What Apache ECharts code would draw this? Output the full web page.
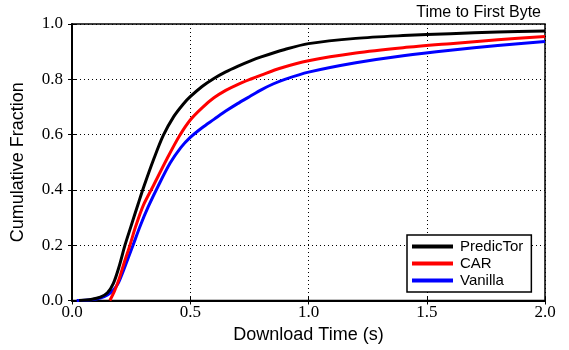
<!DOCTYPE html>
<html><head><meta charset="utf-8">
<script src="https://cdn.jsdelivr.net/npm/echarts@6/dist/echarts.min.js"></script>
<style>html,body{margin:0;padding:0;background:#fff}#c{width:569px;height:350px}</style>
</head><body><div id="c"></div>
<script>
var title = "Time to First Byte";
var xTicks = [0.0, 0.5, 1.0, 1.5, 2.0];
var yTicks = [0.0, 0.2, 0.4, 0.6, 0.8, 1.0];
var seriesNames = ["PredicTor", "CAR", "Vanilla"];

var predictorT = [0.03, 0.08, 0.12, 0.15, 0.175, 0.2, 0.224, 0.25, 0.28, 0.305, 0.345, 0.386, 0.43, 0.47, 0.5, 0.55, 0.6, 0.65, 0.7, 0.75, 0.8, 0.9, 1.0, 1.2, 1.4, 1.6, 1.8, 2.0];
var predictorF = [0.0, 0.004, 0.012, 0.028, 0.062, 0.125, 0.2, 0.27, 0.35, 0.415, 0.51, 0.597, 0.665, 0.71, 0.737, 0.774, 0.803, 0.827, 0.847, 0.865, 0.881, 0.908, 0.929, 0.948, 0.958, 0.965, 0.971, 0.975];

var carT = [0.16, 0.18, 0.2, 0.22, 0.245, 0.27, 0.302, 0.344, 0.4, 0.454, 0.5, 0.55, 0.6, 0.65, 0.7, 0.76, 0.8, 0.88, 1.0, 1.2, 1.4, 1.6, 1.8, 2.0];
var carF = [0.0, 0.035, 0.08, 0.135, 0.2, 0.27, 0.345, 0.415, 0.51, 0.595, 0.653, 0.697, 0.733, 0.76, 0.781, 0.802, 0.815, 0.84, 0.867, 0.895, 0.914, 0.929, 0.943, 0.955];

var vanillaT = [0.02, 0.08, 0.12, 0.15, 0.175, 0.195, 0.225, 0.258, 0.29, 0.323, 0.365, 0.415, 0.46, 0.5, 0.55, 0.6, 0.65, 0.7, 0.75, 0.8, 0.85, 0.9, 1.0, 1.2, 1.4, 1.6, 1.8, 2.0];
var vanillaF = [0.0, 0.003, 0.009, 0.02, 0.038, 0.062, 0.125, 0.2, 0.273, 0.34, 0.415, 0.497, 0.553, 0.59, 0.625, 0.655, 0.685, 0.712, 0.737, 0.762, 0.783, 0.8, 0.826, 0.86, 0.885, 0.905, 0.922, 0.937];

function pairs(t, f) { return t.map(function (v, i) { return [v, f[i]]; }); }

var chart = echarts.init(document.getElementById('c'), null, {renderer: 'canvas'});
var serif = '"Liberation Serif", "DejaVu Serif", serif';
var sans = '"Liberation Sans", "DejaVu Sans", sans-serif';
var dotted = {color: '#000', width: 1, type: [1, 3]};
function fmt(v) { return v.toFixed(1); }
chart.setOption({
  animation: false,
  backgroundColor: '#fff',
  title: {text: title, right: 23, top: 0, textStyle: {fontFamily: sans, fontSize: 16, fontWeight: 'normal', color: '#000'}},
  grid: {left: 72, top: 24, right: 24, bottom: 49.5, show: true, borderColor: '#000', borderWidth: 1.5},
  legend: {
    data: seriesNames, orient: 'vertical', left: 407, top: 235,
    backgroundColor: '#fff', borderColor: '#000', borderWidth: 1.5, borderRadius: 0,
    padding: [4, 8, 4, 5], itemGap: 2, itemWidth: 41, itemHeight: 4, icon: 'rect',
    textStyle: {fontFamily: sans, fontSize: 15, color: '#000', padding: [0, 0, 0, 2]}
  },
  xAxis: [{
    type: 'value', min: 0, max: 2, interval: 0.5,
    name: 'Download Time (s)', nameLocation: 'middle', nameGap: 23,
    nameTextStyle: {fontFamily: sans, fontSize: 18, color: '#000'},
    axisLine: {show: true, lineStyle: {color: '#000', width: 2}},
    axisTick: {inside: true, length: 4, lineStyle: {color: '#000'}},
    axisLabel: {fontFamily: serif, fontSize: 17, color: '#000', margin: 4, formatter: fmt},
    splitLine: {show: true, lineStyle: dotted}
  }, {
    type: 'value', min: 0, max: 2, interval: 0.5, position: 'top',
    axisLine: {show: false}, axisTick: {inside: true, length: 4, lineStyle: {color: '#000'}},
    axisLabel: {show: false}, splitLine: {show: false}
  }],
  yAxis: [{
    type: 'value', min: 0, max: 1, interval: 0.2,
    name: 'Cumulative Fraction', nameLocation: 'middle', nameGap: 45,
    nameTextStyle: {fontFamily: sans, fontSize: 18, color: '#000'},
    axisLine: {show: true, lineStyle: {color: '#000', width: 2}},
    axisTick: {inside: true, length: 4, lineStyle: {color: '#000'}},
    axisLabel: {fontFamily: serif, fontSize: 17, color: '#000', margin: 9, formatter: fmt},
    splitLine: {show: true, lineStyle: dotted}
  }, {
    type: 'value', min: 0, max: 1, interval: 0.2, position: 'right',
    axisLine: {show: false}, axisTick: {inside: true, length: 4, lineStyle: {color: '#000'}},
    axisLabel: {show: false}, splitLine: {show: false}
  }],
  series: [
    {name: seriesNames[2], type: 'line', data: pairs(vanillaT, vanillaF), smooth: 0.3, symbol: 'none', lineStyle: {color: '#0000ff', width: 3}, itemStyle: {color: '#0000ff'}, z: 3},
    {name: seriesNames[1], type: 'line', data: pairs(carT, carF), smooth: 0.3, symbol: 'none', lineStyle: {color: '#ff0000', width: 3}, itemStyle: {color: '#ff0000'}, z: 4},
    {name: seriesNames[0], type: 'line', data: pairs(predictorT, predictorF), smooth: 0.3, symbol: 'none', lineStyle: {color: '#000000', width: 3}, itemStyle: {color: '#000000'}, z: 5}
  ]
});
</script></body></html>
